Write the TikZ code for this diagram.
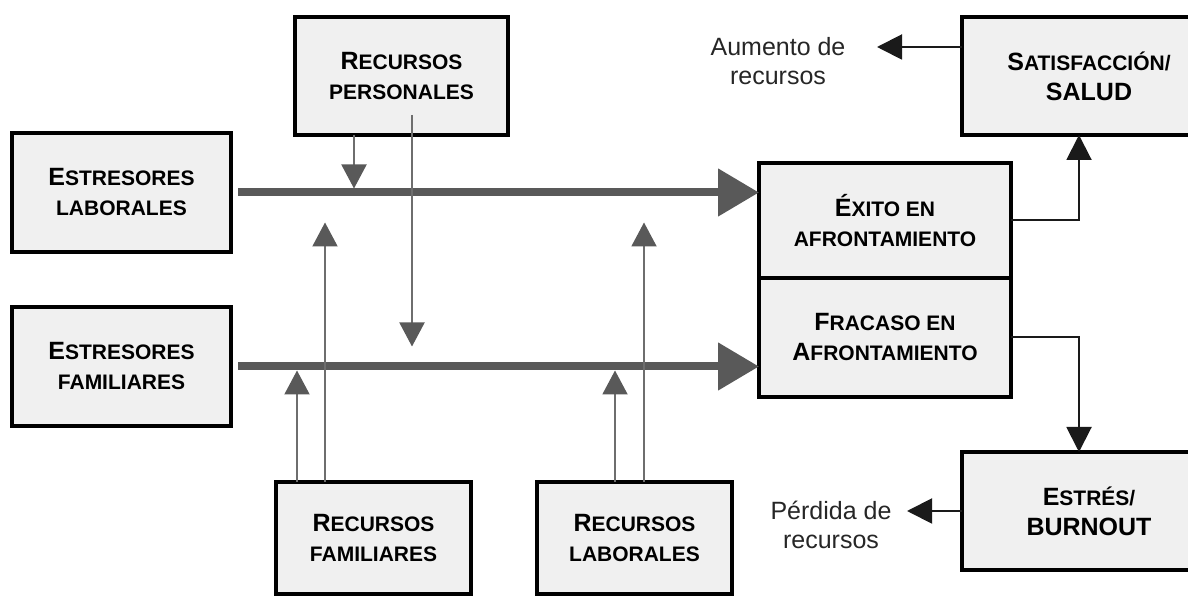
\documentclass[tikz,border=0pt]{standalone}
\usepackage{fontspec}
\setmainfont{Liberation Sans}
\usetikzlibrary{positioning,arrows.meta}

\definecolor{relleno}{HTML}{F0F0F0}
\definecolor{gris}{HTML}{595959}
\definecolor{grisfino}{HTML}{6E6E6E}
\definecolor{negro}{HTML}{1A1A1A}

% small caps a mano
\newcommand{\pq}[1]{{\fontsize{10.5}{15}\selectfont #1}}

\tikzset{
    caja/.style={draw=black, line width=2pt, fill=relleno, outer sep=0pt,
        inner sep=0pt, align=center, font=\fontsize{12.5}{15}\selectfont\bfseries},
    texto/.style={align=center, text=black!85, font=\fontsize{12.5}{14.5}\selectfont},
    grueso/.style={draw=gris, line width=4pt, -{Triangle[length=20.5pt,width=23pt]}, shorten <=3.5pt},
    fino/.style={draw=grisfino, line width=1pt, -{Triangle[length=12pt,width=12.5pt,color=gris]}},
    flechanegra/.style={draw=negro, line width=1pt, -{Triangle[length=12.5pt,width=12.5pt]}}
}

\begin{document}
\begin{tikzpicture}[x=0.5pt,y=-0.5pt]
    \useasboundingbox (0,0) rectangle (1188,597);

    % cajas
    \node[caja, minimum width=109.5pt, minimum height=59.5pt] (estlab) at (121.5,192.5)
        {E\pq{STRESORES}\\\pq{LABORALES}};
    \node[caja, minimum width=109.5pt, minimum height=59.5pt, below=27.5pt of estlab] (estfam)
        {E\pq{STRESORES}\\\pq{FAMILIARES}};
    \node[caja, minimum width=106.5pt, minimum height=59pt] (recpers) at (401.5,76)
        {R\pq{ECURSOS}\\\pq{PERSONALES}};
    \node[caja, minimum width=97.5pt, minimum height=56pt] (recfam) at (373.5,538)
        {R\pq{ECURSOS}\\\pq{FAMILIARES}};
    \node[caja, minimum width=97.5pt, minimum height=56pt] (reclab) at (634.5,538)
        {R\pq{ECURSOS}\\\pq{LABORALES}};
    \node[caja, minimum width=126pt, minimum height=57.5pt] (exito) at (885,220.5)
        {É\pq{XITO EN}\\\pq{AFRONTAMIENTO}};
    \node[caja, minimum width=126pt, minimum height=59.5pt, below=0pt of exito] (fracaso)
        {F\pq{RACASO EN}\\A\pq{FRONTAMIENTO}};
    \node[caja, minimum width=127pt, minimum height=59pt] (satis) at (1089,76)
        {S\pq{ATISFACCIÓN/}\\SALUD};
    \node[caja, minimum width=127pt, minimum height=59pt] (estres) at (1089,511)
        {E\pq{STRÉS/}\\BURNOUT};

    \node[texto] (aumento) at (778,61) {Aumento de\\recursos};
    \node[texto] (perdida) at (831,525) {Pérdida de\\recursos};

    % flechas gruesas
    \draw[grueso] (estlab) -- (estlab -| exito.west);
    \draw[grueso] (estfam) -- (estfam -| fracaso.west);

    % recursos
    \coordinate (xpers) at (354,0);
    \coordinate (xlarga) at (412,115);
    \coordinate (xfam1) at (297,0);
    \coordinate (xfam2) at (325,0);
    \coordinate (xlab1) at (615,0);
    \coordinate (xlab2) at (644,0);
    \draw[fino, shorten >=2pt] (recpers.south -| xpers) -- (estlab.east -| xpers);
    \draw[fino, shorten >=10pt] (xlarga) -- (xlarga |- estfam.east);
    \draw[fino, shorten >=2pt] (recfam.north -| xfam1) -- (xfam1 |- estfam.east);
    \draw[fino, shorten >=15pt] (recfam.north -| xfam2) -- (xfam2 |- estlab.east);
    \draw[fino, shorten >=2pt] (reclab.north -| xlab1) -- (xlab1 |- estfam.east);
    \draw[fino, shorten >=15pt] (reclab.north -| xlab2) -- (xlab2 |- estlab.east);

    % resultados
    \coordinate (xres) at (1079,0);
    \coordinate (aum) at (877,47);
    \coordinate (per) at (907,511);
    \draw[flechanegra] (exito.east) -| (satis.south -| xres);
    \draw[flechanegra] (fracaso.east) -| (estres.north -| xres);
    \draw[flechanegra] (satis.west |- aum) -- (aum);
    \draw[flechanegra] (estres.west) -- (per);
\end{tikzpicture}
\end{document}
